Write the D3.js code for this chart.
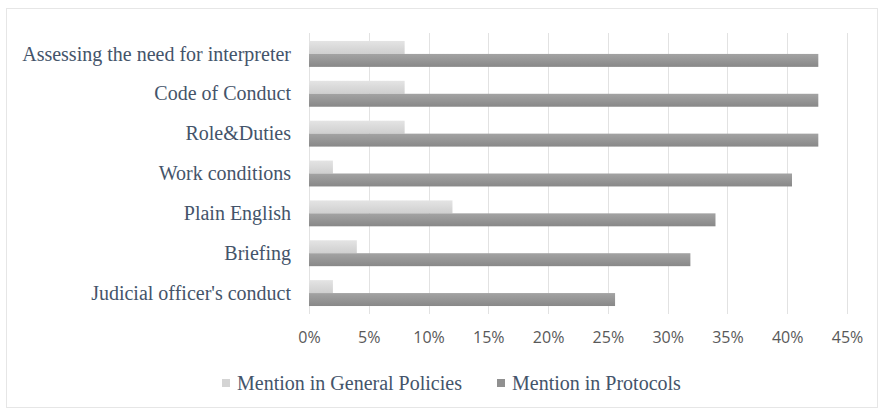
<!DOCTYPE html>
<html lang="en">
<head>
    <meta charset="UTF-8">
    <title>Mentions in General Policies and Protocols</title>
    <script src="https://d3js.org/d3.v7.min.js"></script>
    <style>
        body {
            margin: 0;
            background: #fff;
        }

        .grid line {
            stroke: #e2e2e2;
            stroke-width: 1px;
        }

        .serif {
            font-family: "Liberation Serif", "Times New Roman", Times, serif;
            font-size: 20px;
            fill: #44546a;
        }

        .x-axis text {
            font-family: "Open Sans", "Liberation Sans", sans-serif;
            font-size: 16px;
            fill: #595959;
        }
    </style>
</head>
<body>
    <svg id="chart" width="884" height="414"></svg>

    <script>
        // Categories, top to bottom
        const categories = [
            "Assessing the need for interpreter",
            "Code of Conduct",
            "Role&Duties",
            "Work conditions",
            "Plain English",
            "Briefing",
            "Judicial officer's conduct"
        ];

        // Share of documents (%)
        const generalPolicies = [8, 8, 8, 2, 12, 4, 2];
        const protocols = [42.6, 42.6, 42.6, 40.4, 34.0, 31.9, 25.6];

        const seriesNames = ["Mention in General Policies", "Mention in Protocols"];
        const xTicks = [0, 5, 10, 15, 20, 25, 30, 35, 40, 45];

        const width = 884;
        const height = 414;

        const svg = d3.select("#chart");

        // Outer frame
        svg.append("rect")
            .attr("x", 6.5)
            .attr("y", 8.5)
            .attr("width", width - 13)
            .attr("height", height - 15)
            .attr("fill", "none")
            .attr("stroke", "#e6e6e6");

        // Gradients for the bars
        const defs = svg.append("defs");
        const gradients = [
            { id: "gLight", top: "#e4e4e4", bottom: "#cfcfcf" },
            { id: "gDark", top: "#a3a3a3", bottom: "#888888" }
        ];
        gradients.forEach(g => {
            const lg = defs.append("linearGradient")
                .attr("id", g.id)
                .attr("x1", 0).attr("y1", 0)
                .attr("x2", 0).attr("y2", 1);
            lg.append("stop").attr("offset", "0%").attr("stop-color", g.top);
            lg.append("stop").attr("offset", "100%").attr("stop-color", g.bottom);
        });

        const x = d3.scaleLinear().domain([0, 45]).range([309, 847]);

        const y = d3.scaleBand()
            .domain(categories)
            .range([34, 313])
            .paddingInner(0.35)
            .paddingOuter(0.175);

        const sub = d3.scaleBand()
            .domain([0, 1])
            .range([0, y.bandwidth()]);

        // Vertical gridlines
        svg.append("g")
            .attr("class", "grid")
            .selectAll("line")
            .data(xTicks)
            .join("line")
            .attr("x1", d => Math.round(x(d)) + 0.5)
            .attr("x2", d => Math.round(x(d)) + 0.5)
            .attr("y1", 33)
            .attr("y2", 314);

        // Bars
        const rows = categories.map((c, i) => ({ c, vals: [generalPolicies[i], protocols[i]] }));
        const fills = ["url(#gLight)", "url(#gDark)"];

        const row = svg.append("g")
            .selectAll("g")
            .data(rows)
            .join("g")
            .attr("transform", d => `translate(0,${y(d.c)})`);

        row.selectAll("rect")
            .data(d => d.vals)
            .join("rect")
            .attr("x", x(0))
            .attr("y", (d, i) => sub(i))
            .attr("width", d => x(d) - x(0))
            .attr("height", sub.bandwidth())
            .attr("fill", (d, i) => fills[i]);

        // Category labels
        svg.append("g")
            .selectAll("text")
            .data(categories)
            .join("text")
            .attr("class", "serif")
            .attr("x", 291)
            .attr("y", d => y(d) + y.bandwidth() / 2)
            .attr("dy", "0.33em")
            .attr("text-anchor", "end")
            .text(d => d);

        // X axis labels
        const xAxis = svg.append("g")
            .attr("class", "x-axis")
            .attr("transform", "translate(0,313)")
            .call(d3.axisBottom(x).tickValues(xTicks).tickFormat(d => d + "%").tickSize(0).tickPadding(19));
        xAxis.select(".domain").remove();

        // Legend
        const legendItems = [
            { name: seriesNames[0], x: 222, fill: "#d4d4d4" },
            { name: seriesNames[1], x: 497, fill: "#909090" }
        ];
        const legend = svg.append("g")
            .selectAll("g")
            .data(legendItems)
            .join("g")
            .attr("transform", d => `translate(${d.x},383)`);

        legend.append("rect")
            .attr("x", 0)
            .attr("y", -4)
            .attr("width", 8)
            .attr("height", 8)
            .attr("fill", d => d.fill);

        legend.append("text")
            .attr("class", "serif")
            .attr("x", 15)
            .attr("dy", "0.33em")
            .text(d => d.name);
    </script>
</body>
</html>
